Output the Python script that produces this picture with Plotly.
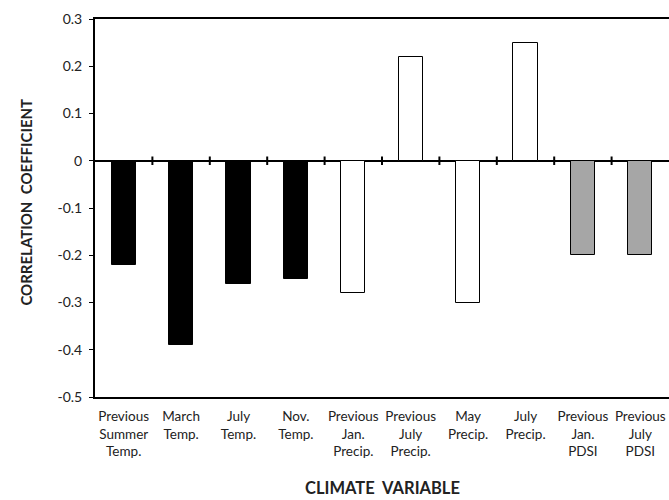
import plotly.graph_objects as go

categories = [
    "Previous<br>Summer<br>Temp.", "March<br>Temp.", "July<br>Temp.", "Nov.<br>Temp.",
    "Previous<br>Jan.<br>Precip.", "Previous<br>July<br>Precip.", "May<br>Precip.",
    "July<br>Precip.", "Previous<br>Jan.<br>PDSI", "Previous<br>July<br>PDSI",
]
values = [-0.22, -0.39, -0.26, -0.25, -0.28, 0.22, -0.30, 0.25, -0.20, -0.20]
bar_colors = ["#000000"] * 4 + ["#ffffff"] * 4 + ["#a6a6a6"] * 2
y_ticks = [0.3, 0.2, 0.1, 0, -0.1, -0.2, -0.3, -0.4, -0.5]
y_tick_text = ["0.3", "0.2", "0.1", "0", "-0.1", "-0.2", "-0.3", "-0.4", "-0.5"]

FONT = "Lato, 'Open Sans', sans-serif"
xs = list(range(len(categories)))

fig = go.Figure()
fig.add_trace(go.Bar(
    x=xs, y=values, width=0.42,
    marker=dict(color=bar_colors, line=dict(color="#000000", width=1)),
    showlegend=False,
))

# small tick marks crossing the zero line at category boundaries
for i in range(len(categories) - 1):
    fig.add_shape(type="line", xref="x", yref="y",
                  x0=i + 0.5, x1=i + 0.5, y0=-0.009, y1=0.009,
                  line=dict(color="#000000", width=2))

fig.update_layout(
    width=669, height=500,
    margin=dict(l=95, r=0, t=19, b=103),
    plot_bgcolor="#ffffff", paper_bgcolor="#ffffff",
    font=dict(family=FONT, size=13, color="#222222"),
    bargap=0,
    xaxis=dict(
        range=[-0.5, 9.5], tickmode="array", tickvals=xs, ticktext=categories,
        showline=True, linecolor="#000000", linewidth=2, mirror=True,
        ticks="", showgrid=False, zeroline=False,
        tickfont=dict(size=13.5, color="#222222"), tickangle=0,
        ticklabelstandoff=6,
    ),
    yaxis=dict(
        range=[-0.5, 0.3], tickmode="array", tickvals=y_ticks, ticktext=y_tick_text,
        showline=True, linecolor="#000000", linewidth=2,
        ticks="outside", ticklen=4, tickwidth=1, tickcolor="#000000",
        showgrid=False, zeroline=True, zerolinecolor="#000000", zerolinewidth=2,
        tickfont=dict(size=14, color="#222222"), ticklabelstandoff=4,
    ),
    annotations=[
        dict(text="<b>CORRELATION  COEFFICIENT</b>", xref="paper", yref="paper",
             x=-0.120, y=0.5146, textangle=-90, showarrow=False,
             font=dict(size=15, color="#222222", family=FONT),
             xanchor="center", yanchor="middle"),
        dict(text="<b>CLIMATE  VARIABLE</b>", xref="paper", yref="paper",
             x=0.5, y=-0.2415, showarrow=False,
             font=dict(size=16.5, color="#222222", family=FONT),
             xanchor="center", yanchor="middle"),
    ],
)

fig.write_html("out.html")
